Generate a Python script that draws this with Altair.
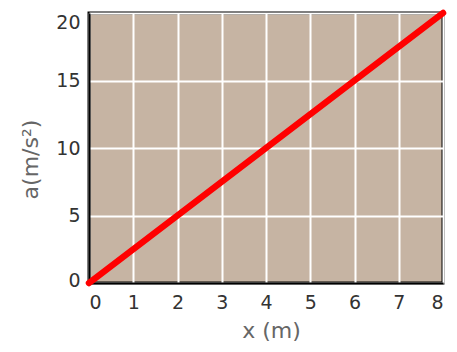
import altair as alt
import pandas as pd

# Data
x_vals = [0, 8]
a_vals = [0, 20]
x_ticks = [0, 1, 2, 3, 4, 5, 6, 7, 8]
y_ticks = [0, 5, 10, 15, 20]

df = pd.DataFrame({"x": x_vals, "a": a_vals})

FONT = "DejaVu Sans"

line = alt.Chart(df).mark_line(color="#ff0000", strokeWidth=6.5, strokeCap="round").encode(
    x=alt.X(
        "x:Q",
        scale=alt.Scale(domain=[0, 8], nice=False, zero=False),
        axis=alt.Axis(
            values=x_ticks,
            title="x (m)",
            grid=True,
            gridColor="#ffffff",
            gridWidth=2,
            gridOpacity=1,
            ticks=False,
            domainColor="#000000",
            domainWidth=2,
            labelFont=FONT,
            labelFontSize=19,
            labelColor="#333333",
            labelPadding=10,
            titleFont=FONT,
            titleFontSize=22,
            titleFontWeight="normal",
            titleColor="#666666",
            titleBaseline="middle",
            titleX=182,
            titleY=47,
        ),
    ),
    y=alt.Y(
        "a:Q",
        scale=alt.Scale(domain=[0, 20], nice=False, zero=False),
        axis=alt.Axis(
            values=y_ticks,
            title="a(m/s²)",
            grid=True,
            gridColor="#ffffff",
            gridWidth=2,
            gridOpacity=1,
            ticks=False,
            domainColor="#000000",
            domainWidth=2,
            labelFont=FONT,
            labelFontSize=19,
            labelColor="#333333",
            labelPadding=9,
            labelBaseline={"condition": {"test": "datum.value == 20", "value": "top"}, "value": "middle"},
            labelOffset={"condition": {"test": "datum.value == 0", "value": -3}, "value": 0},
            titleFont=FONT,
            titleFontSize=22,
            titleFontWeight="normal",
            titleColor="#666666",
            titleAngle=270,
            titleAlign="center",
            titleBaseline="middle",
            titleX=-59,
            titleY=146,
        ),
    ),
)

chart = line.properties(
    width=354,
    height=270,
    autosize=alt.AutoSizeParams(type="none"),
    padding={"left": 81, "top": 5, "right": 6, "bottom": 59},
    background="#ffffff",
).configure_view(
    fill="#c6b4a3",
    stroke="#000000",
    strokeWidth=3,
)

chart.save("out.html", embed_options={"renderer": "svg", "actions": False})
